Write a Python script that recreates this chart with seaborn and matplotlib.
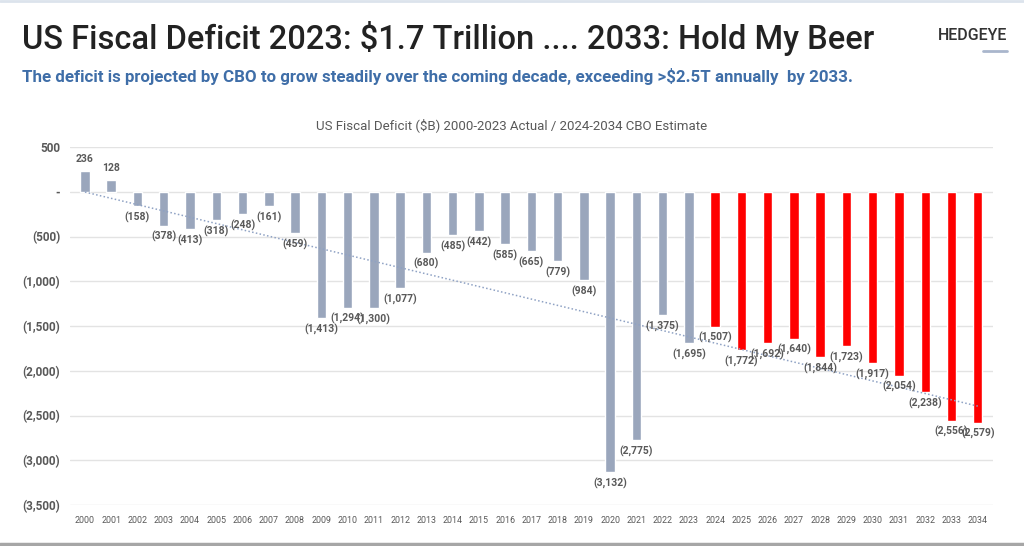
import numpy as np
import pandas as pd
import matplotlib
matplotlib.use("Agg")
import matplotlib.pyplot as plt
import seaborn as sns

years = [str(y) for y in range(2000, 2035)]
deficit = [236, 128, -158, -378, -413, -318, -248, -161, -459, -1413,
           -1294, -1300, -1077, -680, -485, -442, -585, -665, -779, -984,
           -3132, -2775, -1375, -1695, -1507, -1772, -1692, -1640, -1844, -1723,
           -1917, -2054, -2238, -2556, -2579]
period = ["Actual"] * 24 + ["CBO Estimate"] * 11
yticks = [500, 0, -500, -1000, -1500, -2000, -2500, -3000, -3500]

title = "US Fiscal Deficit 2023: $1.7 Trillion .... 2033: Hold My Beer"
subtitle = "The deficit is projected by CBO to grow steadily over the coming decade, exceeding >$2.5T annually  by 2033."
chart_title = "US Fiscal Deficit ($B) 2000-2023 Actual / 2024-2034 CBO Estimate"

df = pd.DataFrame({"year": years, "deficit": deficit, "period": period})

sns.set_theme(style="white")
plt.rcParams["font.family"] = ["Liberation Sans Narrow", "Roboto", "DejaVu Sans"]

fig = plt.figure(figsize=(10.24, 5.46), dpi=100)
ax = fig.add_axes([70 / 1024, 1 - 505 / 546, (993 - 70) / 1024, (505 - 147) / 546])

sns.barplot(data=df, x="year", y="deficit", hue="period",
            palette={"Actual": "#9AA6BC", "CBO Estimate": "#FF0000"},
            dodge=False, width=0.36, saturation=1, legend=False, ax=ax, zorder=3)

# linear trendline
idx = np.arange(len(deficit))
coef = np.polyfit(idx, np.array(deficit, dtype=float), 1)
ax.plot(idx, np.polyval(coef, idx), linestyle=(0, (1, 1.5)), color="#8FA2C4",
        linewidth=1.1, zorder=4)

# data labels
for i, v in enumerate(deficit):
    lab = f"{v:,}" if v >= 0 else f"({-v:,})"
    if v >= 0:
        ax.annotate(lab, (i, v), xytext=(0, 5), textcoords="offset points",
                    ha="center", va="bottom", fontsize=7.5, color="#595959",
                    fontweight="bold", zorder=5)
    else:
        ax.annotate(lab, (i, v), xytext=(0, -4), textcoords="offset points",
                    ha="center", va="top", fontsize=7.5, color="#595959",
                    fontweight="bold", zorder=5)

ax.set_ylim(-3500, 500)
ax.set_xlim(-0.57, 34.58)
ax.set_yticks(yticks)
ax.set_yticklabels(["500" if t > 0 else ("-" if t == 0 else f"({-t:,})") for t in yticks],
                   fontsize=8.5, color="#595959", fontweight="bold")
ax.tick_params(axis="x", labelsize=6.4, colors="#595959", length=0, pad=8)
ax.tick_params(axis="y", length=0, pad=7)
for lab in ax.get_yticklabels():
    lab.set_horizontalalignment("right")
ax.grid(axis="y", color="#E3E3E3", linewidth=1, zorder=0)
ax.set_axisbelow(True)
for s in ax.spines.values():
    s.set_visible(False)
ax.set_xlabel("")
ax.set_ylabel("")

# header texts
fig.text(22 / 1024, 1 - 38 / 546, title, fontsize=23.5, fontweight="medium",
         color="#222222", va="center", ha="left",
         family=["Roboto", "DejaVu Sans"])
fig.text(22 / 1024, 1 - 77 / 546, subtitle, fontsize=12.2, fontweight="bold",
         color="#3F6EA8", va="center", ha="left",
         family=["Liberation Sans Narrow", "Roboto", "DejaVu Sans"])
fig.text(1007 / 1024, 1 - 35 / 546, "HEDGEYE", fontsize=11.5, fontweight="medium",
         color="#333333", va="center", ha="right",
         family=["Roboto", "DejaVu Sans"])
fig.text(512 / 1024, 1 - 125 / 546, chart_title, fontsize=9.5,
         color="#595959", va="center", ha="center",
         family=["Liberation Sans Narrow", "Roboto", "DejaVu Sans"])

# decorative lines
fig.add_artist(plt.Line2D([983 / 1024, 1007 / 1024], [1 - 51 / 546, 1 - 51 / 546],
                          color="#A9B6CC", linewidth=2))
fig.add_artist(plt.Line2D([0, 1], [1 - 1 / 546, 1 - 1 / 546],
                          color="#DCE3EC", linewidth=2))
fig.add_artist(plt.Line2D([0, 1], [1 - 544 / 546, 1 - 544 / 546],
                          color="#A6A6A6", linewidth=2.5))

fig.savefig("out.png", dpi=100)
